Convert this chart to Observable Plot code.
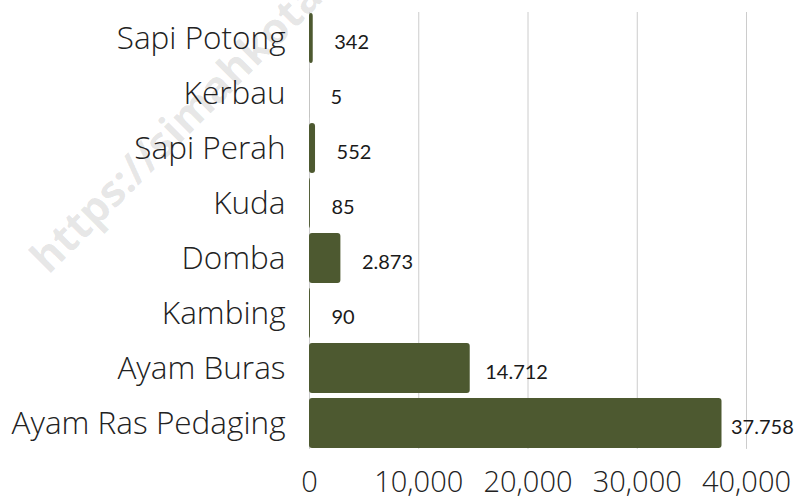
<!DOCTYPE html>
<html>
<head>
<meta charset="utf-8">
<script src="https://cdn.jsdelivr.net/npm/d3@7"></script>
<script src="https://cdn.jsdelivr.net/npm/@observablehq/plot@0.6"></script>
<style>
  html, body { margin: 0; padding: 0; background: #fff; }
  #wrap { position: relative; width: 809px; height: 500px; overflow: hidden; }
  #wm {
    position: absolute; left: 52px; top: 236px;
    font-family: "Open Sans", sans-serif; font-weight: 700; font-size: 43px; line-height: 1;
    color: rgba(0,0,0,0.1); white-space: nowrap;
    transform-origin: 0 100%; transform: rotate(-45deg);
    pointer-events: none; z-index: 0;
  }
  #chart { position: absolute; left: 0; top: 0; z-index: 1; }
  #chart svg { background: transparent !important; }
</style>
</head>
<body>
<div id="wrap">
  <div id="wm">https://simahkota</div>
  <div id="chart"></div>
</div>
<script>
const categories = ["Sapi Potong", "Kerbau", "Sapi Perah", "Kuda", "Domba", "Kambing", "Ayam Buras", "Ayam Ras Pedaging"];
const values = [342, 5, 552, 85, 2873, 90, 14712, 37758];
const xTicks = [0, 10000, 20000, 30000, 40000];

const data = categories.map((c, i) => ({category: c, value: values[i]}));
const idFmt = d3.formatLocale({decimal: ",", thousands: ".", grouping: [3]}).format(",");

const labelOpts = {
  x: "value", y: "category", text: d => idFmt(d.value),
  textAnchor: "start", dy: 4, fontSize: 20, fill: "#1a1a1a",
  fontFamily: "Lato, sans-serif", fontWeight: 400
};

const chart = Plot.plot({
  width: 809,
  height: 500,
  marginLeft: 309,
  marginRight: 63,
  marginTop: 6.5,
  marginBottom: 45.6,
  style: {fontFamily: "'Open Sans', sans-serif", background: "transparent"},
  x: {domain: [0, 40000], ticks: xTicks, label: null},
  y: {domain: categories, padding: 0.1, label: null},
  marks: [
    Plot.ruleX(xTicks, {stroke: "#cccccc", strokeWidth: 1, insetTop: 5.5, insetBottom: 5.5}),
    Plot.barX(data, {x: "value", y: "category", fill: "#4d5930", rx: 3}),
    Plot.text(data.filter(d => d.value < 10000), {...labelOpts, dx: 21}),
    Plot.text(data.filter(d => d.value >= 10000 && d.value < 30000), {...labelOpts, dx: 15}),
    Plot.text(data.filter(d => d.value >= 30000), {...labelOpts, dx: 9}),
    Plot.axisY({tickSize: 0, tickPadding: 24, fontSize: 31.5, fontWeight: 300, fill: "#222", label: null}),
    Plot.axisX({ticks: xTicks, tickSize: 0, tickPadding: 17, fontSize: 29, fontWeight: 300, fill: "#222", label: null})
  ]
});
document.getElementById("chart").appendChild(chart);
</script>
</body>
</html>
